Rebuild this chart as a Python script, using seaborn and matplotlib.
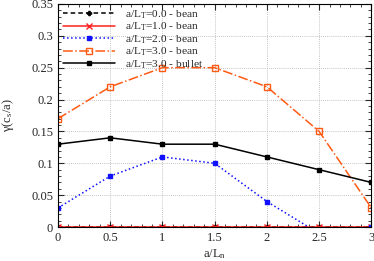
import pandas as pd
import numpy as np
import matplotlib.pyplot as plt
import seaborn as sns
from matplotlib.ticker import MultipleLocator

# x values (a/L_n)
aLn = [0, 0.5, 1, 1.5, 2, 2.5, 3]

# growth rates for each case
bean_T0 = [0, 0, 0, 0, 0, 0, 0]
bean_T1 = [0, 0, 0, 0, 0, 0, 0]
bean_T2 = [0.03, 0.08, 0.11, 0.10, 0.04, -0.01, 0]
bean_T3 = [0.17, 0.22, 0.25, 0.25, 0.22, 0.15, 0.03]
bullet_T3 = [0.13, 0.14, 0.13, 0.13, 0.11, 0.09, 0.07]

labels = ["a/L$_\\mathregular{T}$=0.0 - bean", "a/L$_\\mathregular{T}$=1.0 - bean",
          "a/L$_\\mathregular{T}$=2.0 - bean", "a/L$_\\mathregular{T}$=3.0 - bean",
          "a/L$_\\mathregular{T}$=3.0 - bullet"]
xticks = [0, 0.5, 1, 1.5, 2, 2.5, 3]
xticklabels = ["0", "0.5", "1", "1.5", "2", "2.5", "3"]
yticks = [0, 0.05, 0.1, 0.15, 0.2, 0.25, 0.3, 0.35]
yticklabels = ["0", "0.05", "0.1", "0.15", "0.2", "0.25", "0.3", "0.35"]

sns.set_style("ticks")
plt.rcParams['font.family'] = ['Liberation Serif', 'DejaVu Serif']
plt.rcParams['mathtext.fontset'] = 'custom'
plt.rcParams['mathtext.rm'] = 'Liberation Serif'
plt.rcParams['mathtext.it'] = 'Liberation Serif:italic'

fig = plt.figure(figsize=(3.74, 2.61), dpi=100)
ax = fig.add_axes([0.155, 0.13, 0.838, 0.855])

# one call per series so each keeps its own style
styles = [
    (bean_T0, "black", (0, (3, 2)), "P", 3, True),
    (bean_T1, "#ff2020", "-", "x", 4, True),
    (bean_T2, "#1010ff", ":", "s", 3, True),
    (bean_T3, "#ff5a14", "-.", "s", 4, False),
    (bullet_T3, "black", "-", "s", 3, True),
]
for (vals, col, ls, mk, ms, filled), lab in zip(styles, labels):
    df = pd.DataFrame({"x": aLn, "y": vals})
    sns.lineplot(data=df, x="x", y="y", ax=ax, color=col, linestyle=ls,
                 marker=mk, markersize=ms, linewidth=1.1,
                 markerfacecolor=col if filled else "none",
                 markeredgecolor=col, markeredgewidth=1, label=lab)

ax.set_xticks(xticks, xticklabels)
ax.set_yticks(yticks, yticklabels)
ax.xaxis.set_minor_locator(MultipleLocator(0.1))
ax.yaxis.set_minor_locator(MultipleLocator(0.01))
ax.set_xlim(0, 3)
ax.set_ylim(0, 0.35)
ax.tick_params(which="both", direction="in", top=True, right=True, labelsize=9)
ax.tick_params(which="major", length=4)
ax.tick_params(which="minor", length=2)
ax.grid(True, which="major", color="#b0b0b0", linestyle=(0, (1, 1.5)), linewidth=0.6)
ax.set_xlabel("a/L$_\\mathregular{n}$", fontsize=9, labelpad=2)
ax.set_ylabel("γ(c$_\\mathregular{s}$/a)", fontsize=9, labelpad=11)
for s in ax.spines.values():
    s.set_linewidth(0.8)
    s.set_color("black")

leg = ax.legend(loc="upper left", frameon=False, fontsize=8.2, handlelength=4.6,
                borderaxespad=0.2, labelspacing=0.0, handletextpad=0.9,
                borderpad=0.2)

plt.savefig("out.png", dpi=100)
